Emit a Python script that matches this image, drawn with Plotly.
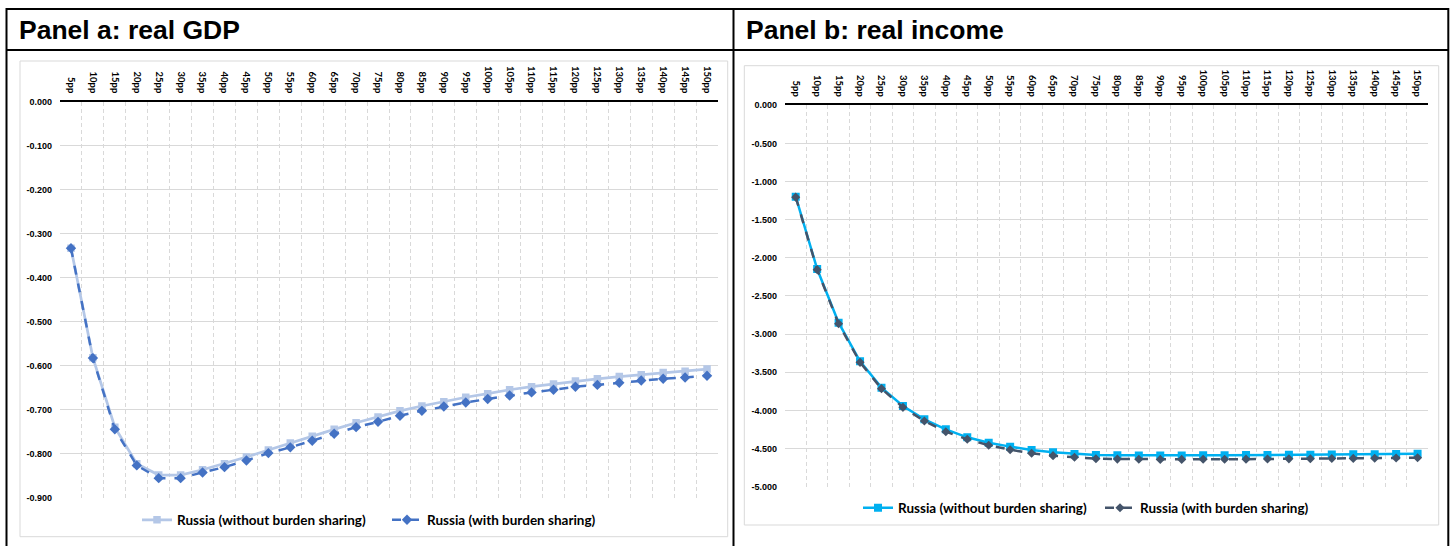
import plotly.graph_objects as go

W, H = 1454, 546

categories = ["5pp", "10pp", "15pp", "20pp", "25pp", "30pp", "35pp", "40pp", "45pp", "50pp",
              "55pp", "60pp", "65pp", "70pp", "75pp", "80pp", "85pp", "90pp", "95pp", "100pp",
              "105pp", "110pp", "115pp", "120pp", "125pp", "130pp", "135pp", "140pp", "145pp", "150pp"]

gdp_without = [-0.333, -0.582, -0.740, -0.823, -0.849, -0.849, -0.837, -0.823, -0.808, -0.792,
               -0.776, -0.761, -0.745, -0.730, -0.717, -0.703, -0.692, -0.682, -0.672, -0.664,
               -0.655, -0.648, -0.642, -0.635, -0.630, -0.625, -0.621, -0.616, -0.613, -0.608]
gdp_with = [-0.333, -0.583, -0.745, -0.827, -0.856, -0.856, -0.843, -0.831, -0.816, -0.799,
            -0.786, -0.771, -0.755, -0.740, -0.728, -0.714, -0.703, -0.693, -0.684, -0.676,
            -0.668, -0.661, -0.655, -0.648, -0.644, -0.639, -0.634, -0.630, -0.627, -0.623]

income_without = [-1.199, -2.147, -2.850, -3.357, -3.702, -3.942, -4.117, -4.248, -4.353, -4.423,
                  -4.475, -4.519, -4.549, -4.571, -4.585, -4.588, -4.590, -4.591, -4.590, -4.589,
                  -4.588, -4.586, -4.584, -4.582, -4.580, -4.578, -4.576, -4.574, -4.571, -4.568]
income_with = [-1.205, -2.155, -2.865, -3.370, -3.715, -3.960, -4.139, -4.279, -4.379, -4.457,
               -4.515, -4.562, -4.593, -4.615, -4.633, -4.638, -4.640, -4.642, -4.642, -4.641,
               -4.640, -4.639, -4.637, -4.635, -4.633, -4.631, -4.629, -4.627, -4.624, -4.621]

gdp_ticks = [0.0, -0.1, -0.2, -0.3, -0.4, -0.5, -0.6, -0.7, -0.8, -0.9]
gdp_ticktext = ["0.000", "-0.100", "-0.200", "-0.300", "-0.400", "-0.500", "-0.600", "-0.700", "-0.800", "-0.900"]
inc_ticks = [0.0, -0.5, -1.0, -1.5, -2.0, -2.5, -3.0, -3.5, -4.0, -4.5, -5.0]
inc_ticktext = ["0.000", "-0.500", "-1.000", "-1.500", "-2.000", "-2.500", "-3.000", "-3.500", "-4.000", "-4.500", "-5.000"]

titles = ["Panel a: real GDP", "Panel b: real income"]
series_names = ["Russia (without burden sharing)", "Russia (with burden sharing)"]


def px(x):
    return x / W


def py(y):
    return 1 - y / H


XLBL = dict(family="Lato", size=9.5, color="black", weight="bold")
YLBL = dict(family="Liberation Sans", size=9, color="black", weight="bold")
LEG = dict(family="Lato", size=13.5, color="black", weight="bold")

fig = go.Figure()

fig.add_trace(go.Scatter(x=categories, y=gdp_without, name=series_names[0], mode="lines+markers",
                         line=dict(color="#B4C7E7", width=2.75),
                         marker=dict(symbol="square", size=7.5, color="#B4C7E7"),
                         xaxis="x", yaxis="y", legend="legend"))
fig.add_trace(go.Scatter(x=categories, y=gdp_with, name=series_names[1], mode="lines+markers",
                         line=dict(color="#4472C4", width=2.5, dash="dash"),
                         marker=dict(symbol="diamond", size=8, color="#4472C4"),
                         xaxis="x", yaxis="y", legend="legend"))
fig.add_trace(go.Scatter(x=categories, y=income_without, name=series_names[0], mode="lines+markers",
                         line=dict(color="#00B0F0", width=2.5),
                         marker=dict(symbol="square", size=8, color="#00B0F0"),
                         xaxis="x2", yaxis="y2", legend="legend2"))
fig.add_trace(go.Scatter(x=categories, y=income_with, name=series_names[1], mode="lines+markers",
                         line=dict(color="#44546A", width=2.5, dash="dash"),
                         marker=dict(symbol="diamond", size=7, color="#44546A"),
                         xaxis="x2", yaxis="y2", legend="legend2"))

xcommon = dict(type="category", side="top", tickangle=90, tickson="boundaries", ticks="",
               showgrid=True, gridcolor="#D9D9D9", griddash="4px,3px", gridwidth=1,
               showline=True, linecolor="black", linewidth=2, tickfont=XLBL,
               range=[-0.5, 29.5], fixedrange=True, ticklabelstandoff=3, automargin=False)
ycommon = dict(showgrid=True, gridcolor="#D9D9D9", gridwidth=1.2, zeroline=False, showline=False,
               ticks="", tickfont=YLBL, fixedrange=True, ticklabelstandoff=7, automargin=False)

fig.update_layout(
    width=W, height=H, autosize=False,
    margin=dict(l=0, r=0, t=0, b=0, pad=0, autoexpand=False),
    paper_bgcolor="white", plot_bgcolor="white",
    xaxis=dict(domain=[px(60), px(718)], anchor="y", **xcommon),
    yaxis=dict(domain=[py(497.5), py(101.7)], anchor="x", range=[-0.9, 0],
               tickvals=gdp_ticks, ticktext=gdp_ticktext, **ycommon),
    xaxis2=dict(domain=[px(785), px(1428.3)], anchor="y2", **xcommon),
    yaxis2=dict(domain=[py(486.7), py(105.2)], anchor="x2", range=[-5, 0],
                tickvals=inc_ticks, ticktext=inc_ticktext, **ycommon),
    legend=dict(orientation="h", x=px(137), y=py(520), xanchor="left", yanchor="middle",
                font=LEG, bgcolor="rgba(0,0,0,0)", entrywidth=205, itemwidth=30),
    legend2=dict(orientation="h", x=px(858), y=py(508), xanchor="left", yanchor="middle",
                 font=LEG, bgcolor="rgba(0,0,0,0)", entrywidth=197, itemwidth=30),
    showlegend=True,
)

shapes = []
# inner chart boxes
shapes.append(dict(type="rect", xref="paper", yref="paper", x0=px(20), x1=px(727.7), y0=py(536.7), y1=py(61),
                   line=dict(color="#D9D9D9", width=1), layer="below"))
shapes.append(dict(type="rect", xref="paper", yref="paper", x0=px(744.3), x1=px(1438.7), y0=py(525), y1=py(65.7),
                   line=dict(color="#D9D9D9", width=1), layer="below"))
# table borders
for (x0, y0, x1, y1) in [(6, 9, 1449, 9), (6, 50, 1449, 50), (6.5, 8, 6.5, 546),
                         (733.5, 8, 733.5, 546), (1448.3, 8, 1448.3, 546)]:
    shapes.append(dict(type="line", xref="paper", yref="paper", x0=px(x0), x1=px(x1), y0=py(y0), y1=py(y1),
                       line=dict(color="black", width=2)))
fig.update_layout(shapes=shapes)

for t, xpos in zip(titles, [17, 744]):
    fig.add_annotation(text=t, xref="paper", yref="paper", x=px(xpos), y=py(30), xanchor="left", yanchor="middle",
                       showarrow=False, font=dict(family="Liberation Sans", size=26.5, color="black", weight="bold"))

fig.write_html("out.html",
               post_script="document.body.style.margin='0';document.body.style.overflow='hidden';")
